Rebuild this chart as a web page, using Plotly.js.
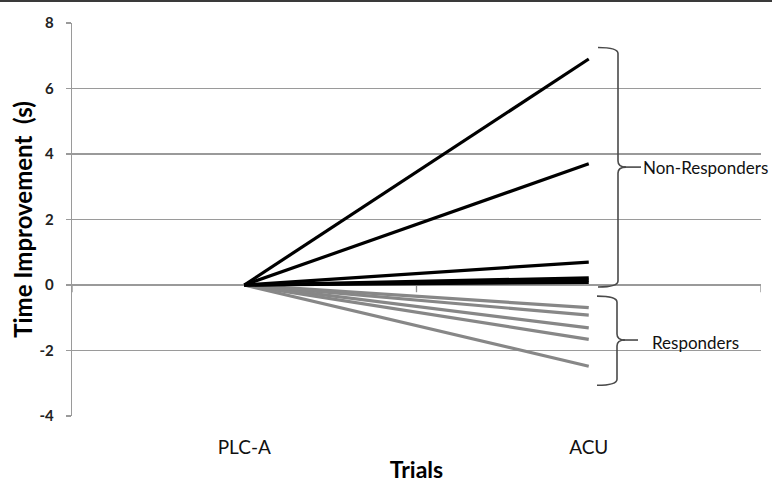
<!DOCTYPE html>
<html>
<head>
<meta charset="utf-8">
<script src="https://cdn.plot.ly/plotly-3.0.1.min.js"></script>
<style>
html,body{margin:0;padding:0;background:#fff;}
#wrap{position:relative;width:772px;height:483px;}
#chart{position:absolute;left:0;top:0;width:772px;height:483px;}
#topline{position:absolute;left:0;top:0;width:772px;height:2px;background:#3a3a3a;}
</style>
</head>
<body>
<div id="wrap"><div id="chart"></div><div id="topline"></div></div>
<script>
// Data
var trials = ["PLC-A", "ACU"];
var nonResponders = [
  [0, 6.9],
  [0, 3.7],
  [0, 0.7],
  [0, 0.22],
  [0, 0.15],
  [0, 0.08]
];
var responders = [
  [0, -0.69],
  [0, -0.92],
  [0, -1.31],
  [0, -1.66],
  [0, -2.48]
];
var yTicks = [-4, -2, 0, 2, 4, 6, 8];

var traces = [];
responders.forEach(function (v) {
  traces.push({x: trials, y: v, type: "scatter", mode: "lines",
    line: {color: "#878787", width: 3.2}, hoverinfo: "skip", showlegend: false});
});
nonResponders.forEach(function (v) {
  traces.push({x: trials, y: v, type: "scatter", mode: "lines",
    line: {color: "#000000", width: 3.2}, hoverinfo: "skip", showlegend: false});
});

var L = 72, W = 689;
function px(p) { return (p - L) / W; }
var U = 32.7; // pixels per y unit
function brace(x0, xv, xtip, yt, yb, ym) {
  var r = 6 / U;
  var a = px(x0), v = px(xv), t = px(xtip);
  return "M " + a + "," + yt + " Q " + v + "," + yt + " " + v + "," + (yt - r) +
    " L " + v + "," + (ym + r) + " Q " + v + "," + ym + " " + t + "," + ym +
    " Q " + v + "," + ym + " " + v + "," + (ym - r) +
    " L " + v + "," + (yb + r) + " Q " + v + "," + yb + " " + a + "," + yb;
}

var braceStyle = {color: "#4a4a4a", width: 1.6};
var shapes = [
  {type: "path", xref: "paper", yref: "y", path: brace(598, 618, 626, 7.25, -0.06, 3.6), line: braceStyle},
  {type: "line", xref: "paper", yref: "y", x0: px(624), x1: px(641), y0: 3.6, y1: 3.6, line: braceStyle},
  {type: "path", xref: "paper", yref: "y", path: brace(597, 617, 625, -0.34, -3.06, -1.68), line: braceStyle},
  {type: "line", xref: "paper", yref: "y", x0: px(623), x1: px(638), y0: -1.68, y1: -1.68, line: braceStyle}
];
[-0.5, 0.5, 1.5].forEach(function (xx) {
  shapes.push({type: "line", xref: "x", yref: "y", x0: xx, x1: xx, y0: 0, y1: -0.22,
    line: {color: "#8f8f8f", width: 1.3}, layer: "below"});
});
shapes.push({type: "line", xref: "paper", yref: "y", x0: 0, x1: 1, y0: 0, y1: 0,
  line: {color: "#8f8f8f", width: 1.3}, layer: "below"});

var font = "Lato, 'Open Sans', sans-serif";
var layout = {
  width: 772, height: 483,
  margin: {l: 72, r: 11, t: 23, b: 67, pad: 0},
  paper_bgcolor: "#ffffff", plot_bgcolor: "#ffffff",
  showlegend: false,
  font: {family: font, color: "#111"},
  xaxis: {
    type: "category", range: [-0.5, 1.5], showgrid: false, zeroline: false, showline: false,
    ticks: "", ticklabelstandoff: 18,
    tickfont: {family: font, size: 19, color: "#111"},
    title: {text: "<b>Trials</b>", standoff: 8, font: {family: font, size: 23, color: "#000"}},
    automargin: false, fixedrange: true
  },
  yaxis: {
    range: [-4, 8], tickvals: yTicks, ticktext: yTicks.map(String),
    showgrid: true, gridcolor: "#9a9a9a", gridwidth: 1.3, zeroline: false,
    showline: true, linecolor: "#9a9a9a", linewidth: 1.3,
    ticks: "outside", ticklen: 5, tickcolor: "#9a9a9a", tickwidth: 1.3,
    ticklabelstandoff: 9,
    tickfont: {family: font, size: 15, color: "#222", weight: "bold"},
    title: {text: "<b>Time Improvement&nbsp; (s)</b>", standoff: 0, font: {family: font, size: 24, color: "#000"}},
    automargin: false, fixedrange: true
  },
  shapes: shapes,
  annotations: [
    {xref: "paper", yref: "y", x: px(641), y: 3.6, xanchor: "left", yanchor: "middle",
      text: "Non-Responders", showarrow: false, font: {family: font, size: 17, color: "#111"}},
    {xref: "paper", yref: "y", x: px(650), y: -1.77, xanchor: "left", yanchor: "middle",
      text: "Responders", showarrow: false, font: {family: font, size: 17, color: "#111"}}
  ]
};

Plotly.newPlot("chart", traces, layout, {staticPlot: true, displayModeBar: false});
</script>
</body>
</html>
